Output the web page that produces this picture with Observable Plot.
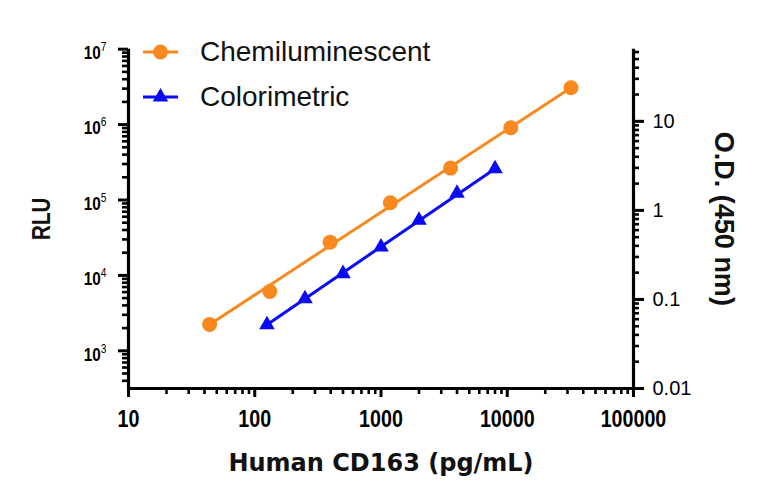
<!DOCTYPE html>
<html>
<head>
<meta charset="utf-8">
<script src="https://cdn.jsdelivr.net/npm/d3@7"></script>
<script src="https://cdn.jsdelivr.net/npm/@observablehq/plot@0.6"></script>
<style>
  html, body { margin: 0; padding: 0; background: #fff; }
  #wrap { position: relative; width: 768px; height: 504px; }
  .legend-row { position: absolute; left: 143px; height: 32px; display: flex; align-items: center;
    font-family: "Liberation Sans", Arial, sans-serif; font-size: 28px; color: #111; white-space: nowrap; }
  .legend-row svg { margin-right: 22px; }
</style>
</head>
<body>
<div id="wrap"></div>
<script>
// ---- data ----
const xTicks = [10, 100, 1000, 10000, 100000];
const rluTicks = [1e3, 1e4, 1e5, 1e6, 1e7];
const odTicks = [0.01, 0.1, 1, 10];
const odTickLabels = ["0.01", "0.1", "1", "10"];

const seriesNames = ["Chemiluminescent", "Colorimetric"];
const seriesColors = ["#f7891f", "#0a0af5"];

// measured points
const chemConc = [43.9, 131.7, 395, 1185, 3556, 10667, 32000];
const chemRLU  = [2230, 6120, 27600, 91800, 265000, 907000, 3080000];
const colorConc = [125, 250, 500, 1000, 2000, 4000, 8000];
const colorOD   = [0.052, 0.102, 0.195, 0.387, 0.773, 1.56, 2.94];

// fitted lines (end points)
const chemFitConc = [43.9, 32000];
const chemFitRLU  = [2230, 3080000];
const colorFitConc = [125, 8000];
const colorFitOD   = [0.052, 2.94];

// ---- scales ----
const X_DOMAIN = [10, 100000];
const RLU_DOMAIN = [10 ** 2.5, 1e7];
const OD_DOMAIN = [0.01, 10 ** 1.81];
const L = Math.log10;
const odToRlu = v => 10 ** (L(RLU_DOMAIN[0]) + (L(v) - L(OD_DOMAIN[0])) *
  (L(RLU_DOMAIN[1] / RLU_DOMAIN[0]) / L(OD_DOMAIN[1] / OD_DOMAIN[0])));

const minorTicks = (lo, hi) => {
  const out = [];
  for (let e = Math.floor(L(lo)); e <= Math.ceil(L(hi)); e++)
    for (let k = 2; k <= 9; k++) { const v = k * 10 ** e; if (v >= lo * 0.999 && v <= hi * 1.001) out.push(v); }
  return out;
};

const chem = chemConc.map((c, i) => ({x: c, y: chemRLU[i]}));
const colr = colorConc.map((c, i) => ({x: c, y: odToRlu(colorOD[i])}));
const chemFit = chemFitConc.map((c, i) => ({x: c, y: chemFitRLU[i]}));
const colrFit = colorFitConc.map((c, i) => ({x: c, y: odToRlu(colorFitOD[i])}));
const odRows = odTicks.map((v, i) => ({y: odToRlu(v), label: odTickLabels[i]}));

const xMinor = minorTicks(X_DOMAIN[0], X_DOMAIN[1]);
const yMinor = minorTicks(RLU_DOMAIN[0], RLU_DOMAIN[1]);
const odMinor = minorTicks(OD_DOMAIN[0], OD_DOMAIN[1]).map(odToRlu);

const sans = "'Liberation Sans', Arial, sans-serif";

const chart = Plot.plot({
  width: 768,
  height: 504,
  marginTop: 48.7,
  marginBottom: 116,
  marginLeft: 128,
  marginRight: 135,
  style: {background: "#fff", color: "#000", overflow: "visible"},
  x: {type: "log", domain: X_DOMAIN},
  y: {type: "log", domain: RLU_DOMAIN},
  marks: [
    // minor ticks
    Plot.ruleX(xMinor, {x: d => d, y1: RLU_DOMAIN[0], y2: RLU_DOMAIN[0], insetBottom: -6, stroke: "#000", strokeWidth: 2.6}),
    Plot.ruleY(yMinor, {y: d => d, x1: X_DOMAIN[0], x2: X_DOMAIN[0], insetLeft: -6, stroke: "#000", strokeWidth: 2.6}),
    Plot.ruleY(odMinor, {y: d => d, x1: X_DOMAIN[1], x2: X_DOMAIN[1], insetRight: -6, stroke: "#000", strokeWidth: 2.6}),
    // major ticks
    Plot.axisX(xTicks, {tickSize: 9, strokeWidth: 3, tickPadding: 12, label: null,
      tickFormat: d => String(d), fontSize: 24, fontWeight: "bold", fontFamily: sans}),
    Plot.axisY(rluTicks, {anchor: "left", tickSize: 10, strokeWidth: 3, tickPadding: 12, label: null,
      tickFormat: d => "10^" + Math.round(L(d)), fontSize: 18, fontWeight: "bold", fontFamily: sans}),
    Plot.ruleY(odRows, {y: "y", x1: X_DOMAIN[1], x2: X_DOMAIN[1], insetRight: -11, stroke: "#000", strokeWidth: 3}),
    Plot.text(odRows, {y: "y", text: "label", frameAnchor: "right", dx: 19, textAnchor: "start",
      fontSize: 20, fontFamily: sans, fill: "#000"}),
    // axis lines
    Plot.ruleX([X_DOMAIN[0]], {stroke: "#000", strokeWidth: 3.2}),
    Plot.ruleX([X_DOMAIN[1]], {stroke: "#000", strokeWidth: 3.2}),
    Plot.ruleY([RLU_DOMAIN[0]], {stroke: "#000", strokeWidth: 3.2}),
    // data
    Plot.line(chemFit, {x: "x", y: "y", stroke: seriesColors[0], strokeWidth: 3}),
    Plot.dot(chem, {x: "x", y: "y", fill: seriesColors[0], r: 7.5, symbol: "circle"}),
    Plot.line(colrFit, {x: "x", y: "y", stroke: seriesColors[1], strokeWidth: 3}),
    Plot.dot(colr, {x: "x", y: "y", fill: seriesColors[1], r: 5.8, symbol: "triangle"}),
    // axis titles
    Plot.text(["Human CD163 (pg/mL)"], {frameAnchor: "bottom", dy: 75, lineAnchor: "middle", fontSize: 24, fontWeight: "bold",
      fontFamily: "'DejaVu Sans', sans-serif", fill: "#111"}),
    Plot.text(["RLU"], {frameAnchor: "left", dx: -87, rotate: -90, textAnchor: "middle", lineAnchor: "middle",
      fontSize: 25, fontWeight: "bold", fontFamily: sans, fill: "#111"}),
    Plot.text(["O.D. (450 nm)"], {frameAnchor: "right", dx: 90, rotate: 90, textAnchor: "middle", lineAnchor: "middle",
      fontSize: 27, fontWeight: "bold", fontFamily: sans, fill: "#111"})
  ]
});

const root = d3.select(chart);

// superscript exponents for RLU ticks
const rluLabels = root.selectAll("text").filter(function () { return /^10\^\d$/.test(this.textContent); });
rluLabels.each(function () {
  const exp = this.textContent.split("^")[1];
  const t = d3.select(this);
  t.text(null);
  t.append("tspan").attr("dy", 4).text("10");
  t.append("tspan").attr("dy", -8).attr("font-size", 12).attr("font-weight", "normal").text(exp);
});

// condense bold labels horizontally (the reference uses a narrow bold face)
const condense = (sel, f) => sel.each(function () {
  const tr = this.getAttribute("transform") || "";
  this.setAttribute("transform", (tr + ` scale(${f},1)`).trim());
});
condense(root.selectAll('g[aria-label="x-axis tick label"] text'), 0.82);
condense(rluLabels, 0.85);
condense(root.selectAll("text").filter(function () { return this.textContent === "RLU"; }), 0.82);

const wrap = document.getElementById("wrap");
wrap.appendChild(chart);

// legend
const legendYs = [52, 97];
seriesNames.forEach((name, i) => {
  const row = document.createElement("div");
  row.className = "legend-row";
  row.style.top = (legendYs[i] - 16) + "px";
  const s = d3.create("svg").attr("width", 35).attr("height", 32);
  s.append("line").attr("x1", 0).attr("x2", 35).attr("y1", 16).attr("y2", 16)
    .attr("stroke", seriesColors[i]).attr("stroke-width", 3);
  s.append("path").attr("transform", "translate(17.5,16)")
    .attr("d", d3.symbol(i === 0 ? d3.symbolCircle : d3.symbolTriangle, i === 0 ? Math.PI * 7.5 * 7.5 : Math.PI * 5.8 * 5.8)())
    .attr("fill", seriesColors[i]);
  row.appendChild(s.node());
  const span = document.createElement("span");
  span.textContent = name;
  row.appendChild(span);
  wrap.appendChild(row);
});
</script>
</body>
</html>
